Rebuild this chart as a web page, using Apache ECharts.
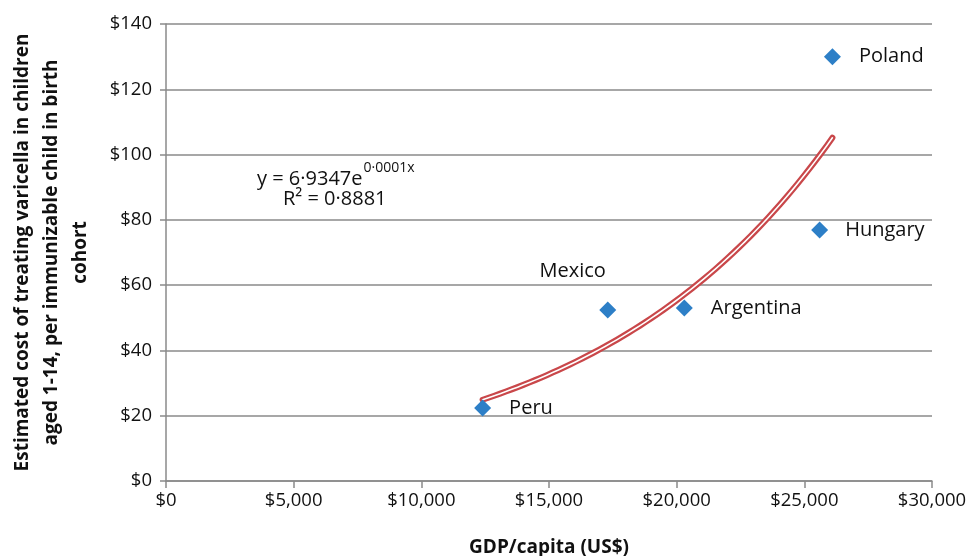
<!DOCTYPE html>
<html>
<head>
<meta charset="utf-8">
<script src="https://cdn.jsdelivr.net/npm/echarts@6/dist/echarts.min.js"></script>
<style>
html,body{margin:0;padding:0;background:#fff;}
#chart{width:971px;height:556px;}
</style>
</head>
<body>
<div id="chart"></div>
<script>
// ---- data ----
const countries = ['Peru', 'Mexico', 'Argentina', 'Hungary', 'Poland'];
const gdpPerCapita = [12400, 17300, 20300, 25600, 26100];
const costPerChild = [22.4, 52.4, 53.0, 76.9, 130.0];
const xTicks = [0, 5000, 10000, 15000, 20000, 25000, 30000];
const yTicks = [0, 20, 40, 60, 80, 100, 120, 140];
const equationText = ['y = 6·9347e', '0·0001x', 'R² = 0·8881'];

// exponential trendline (least squares on ln y), as a spreadsheet trendline does
function expFit(xs, ys) {
  const n = xs.length;
  const ly = ys.map(Math.log);
  const mx = xs.reduce((a, b) => a + b, 0) / n;
  const my = ly.reduce((a, b) => a + b, 0) / n;
  let sxy = 0, sxx = 0;
  for (let i = 0; i < n; i++) { sxy += (xs[i] - mx) * (ly[i] - my); sxx += (xs[i] - mx) * (xs[i] - mx); }
  const b = sxy / sxx;
  const a = Math.exp(my - b * mx);
  return { a, b };
}
const fit = expFit(gdpPerCapita, costPerChild);
const xMin = Math.min(...gdpPerCapita), xMax = Math.max(...gdpPerCapita);
const trend = [];
for (let i = 0; i <= 60; i++) {
  const x = xMin + (xMax - xMin) * i / 60;
  trend.push([x, fit.a * Math.exp(fit.b * x)]);
}

const FONT = '"Open Sans", "Liberation Sans", sans-serif';
const GREY = '#8a8a8a';
const labelOffsets = {
  Peru: { position: 'right', distance: 18 },
  Mexico: { position: 'top', offset: [-35, -15] },
  Argentina: { position: 'right', distance: 18 },
  Hungary: { position: 'right', distance: 17 },
  Poland: { position: 'right', distance: 18 }
};

const chart = echarts.init(document.getElementById('chart'), null, { renderer: 'canvas' });
const fmtMoney = v => '$' + v.toLocaleString('en-US');

chart.setOption({
  animation: false,
  backgroundColor: '#fff',
  textStyle: { fontFamily: FONT },
  grid: { left: 166, right: 39, top: 24, bottom: 75, containLabel: false, outerBoundsMode: 'none' },
  xAxis: {
    type: 'value', min: xTicks[0], max: xTicks[xTicks.length - 1], interval: 5000,
    name: 'GDP/capita (US$)', nameLocation: 'middle', nameGap: 57,
    nameTextStyle: { fontFamily: FONT, fontSize: 19, fontWeight: 'bold', color: '#111' },
    axisLine: { show: true, lineStyle: { color: GREY, width: 1.5 } },
    axisTick: { show: true, length: 7, lineStyle: { color: GREY, width: 1.5 } },
    axisLabel: { formatter: fmtMoney, fontSize: 18.5, color: '#111', margin: 10 },
    splitLine: { show: false }
  },
  yAxis: {
    type: 'value', min: yTicks[0], max: yTicks[yTicks.length - 1], interval: 20,
    name: 'Estimated cost of treating varicella in children\naged 1-14, per immunizable child in birth\ncohort',
    nameLocation: 'middle', nameGap: 71, nameRotate: 90,
    nameTextStyle: { fontFamily: FONT, fontSize: 19, fontWeight: 'bold', color: '#111', lineHeight: 29, align: 'center' },
    axisLine: { show: true, lineStyle: { color: GREY, width: 1.5 } },
    axisTick: { show: true, length: 6, lineStyle: { color: GREY, width: 1.5 } },
    axisLabel: { formatter: fmtMoney, fontSize: 18.5, color: '#111', margin: 14 },
    splitLine: { show: true, lineStyle: { color: GREY, width: 1.5 } }
  },
  series: [
    {
      type: 'line', data: trend, showSymbol: false, symbol: 'none', z: 3,
      lineStyle: { color: '#c9474a', width: 6, cap: 'round', join: 'round' }
    },
    {
      type: 'line', data: trend, showSymbol: false, symbol: 'none', z: 4,
      lineStyle: { color: '#ffffff', width: 1.6, cap: 'round', join: 'round' }
    },
    {
      type: 'scatter', z: 5,
      symbol: 'diamond', symbolSize: 17,
      itemStyle: { color: '#2d7fc7', opacity: 1 },
      data: countries.map((c, i) => ({
        value: [gdpPerCapita[i], costPerChild[i]],
        name: c,
        label: Object.assign({ show: true, formatter: c, fontSize: 20, color: '#111', fontFamily: FONT }, labelOffsets[c])
      }))
    }
  ],
  graphic: [
    {
      type: 'text', left: 257, top: 161,
      style: {
        text: '{m|' + equationText[0] + '}{s|' + equationText[1] + '}',
        rich: {
          m: { fontSize: 20, fontFamily: FONT, fill: '#111', verticalAlign: 'bottom', lineHeight: 28 },
          s: { fontSize: 14, fontFamily: FONT, fill: '#111', verticalAlign: 'top', lineHeight: 28, padding: [0, 0, 8, 1] }
        }
      }
    },
    {
      type: 'text', left: 283, top: 189,
      style: { text: equationText[2], fontSize: 20, fontFamily: FONT, fill: '#111' }
    }
  ]
});
</script>
</body>
</html>
